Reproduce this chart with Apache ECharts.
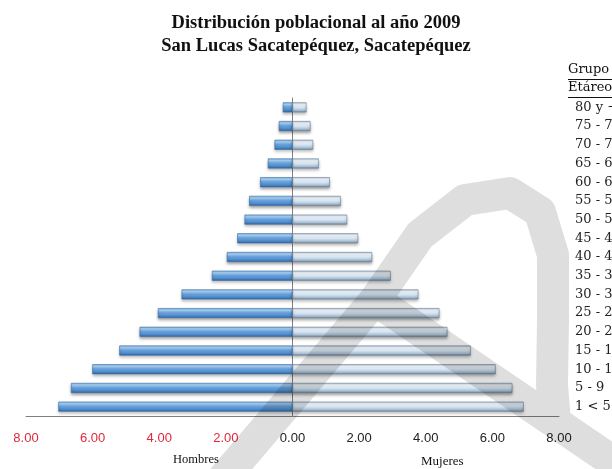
<!DOCTYPE html>
<html>
<head>
<meta charset="utf-8">
<script src="https://cdn.jsdelivr.net/npm/echarts@6/dist/echarts.min.js"></script>
<style>
  html, body { margin: 0; padding: 0; background: #fff; }
  #chart { width: 612px; height: 469px; }
</style>
</head>
<body>
<div id="chart"></div>
<script>
// Age groups, youngest at the bottom of the pyramid
const ageGroups = ['1 < 5', '5 - 9', '10 - 14', '15 - 19', '20 - 24', '25 - 29', '30 - 34',
  '35 - 39', '40 - 44', '45 - 49', '50 - 54', '55 - 59', '60 - 64', '65 - 69', '70 - 74',
  '75 - 79', '80 y +'];

// Percentage of population per group
const hombres = [7.03, 6.65, 6.01, 5.20, 4.59, 4.04, 3.33, 2.42, 1.97, 1.66, 1.44, 1.30, 0.97, 0.74, 0.54, 0.41, 0.29];
const mujeres = [6.94, 6.60, 6.10, 5.35, 4.65, 4.41, 3.78, 2.95, 2.39, 1.97, 1.64, 1.45, 1.12, 0.79, 0.62, 0.54, 0.42];

const axisMin = -8, axisMax = 8, axisStep = 2;

const chart = echarts.init(document.getElementById('chart'), null, { renderer: 'canvas' });

const grad = (stops) => new echarts.graphic.LinearGradient(0, 0, 0, 1,
  stops.map(([offset, color]) => ({ offset, color })));

const menFill = grad([[0, '#7fb3e6'], [0.22, '#aed4f6'], [0.45, '#6aa6e0'], [0.78, '#4c89ca'], [1, '#2f5f96']]);
const womenFill = grad([[0, '#aebfd0'], [0.22, '#f4f9fe'], [0.5, '#d9e8f5'], [0.8, '#aabfd3'], [1, '#6a8299']]);

const serif = '"Liberation Serif", "DejaVu Serif", serif';
const wideSerif = '"DejaVu Serif", "Liberation Serif", serif';
const sans = '"Liberation Sans", Arial, sans-serif';

chart.setOption({
  backgroundColor: '#ffffff',
  animation: false,
  title: {
    text: 'Distribución poblacional al año 2009\nSan Lucas Sacatepéquez, Sacatepéquez',
    left: 311, top: 7, textAlign: 'center',
    textStyle: { fontFamily: serif, fontSize: 18.5, fontWeight: 'bold', color: '#111', lineHeight: 23 }
  },
  grid: { left: 26, right: 53, top: 98, bottom: 53, containLabel: false, outerBoundsMode: 'none' },
  xAxis: {
    type: 'value', min: axisMin, max: axisMax, interval: axisStep,
    axisLine: { show: true, lineStyle: { color: '#7f7f7f', width: 1 } },
    axisTick: { show: false },
    splitLine: { show: false },
    axisLabel: {
      margin: 16,
      fontFamily: sans, fontSize: 13,
      formatter: (v) => Math.abs(v).toFixed(2),
      color: (v) => (Number(v) < 0 ? '#e0283c' : '#222')
    }
  },
  yAxis: [
    {
      type: 'category', data: ageGroups,
      axisLine: { show: true, onZero: true, lineStyle: { color: '#7f7f7f', width: 1 } },
      axisTick: { show: false },
      axisLabel: { show: false }
    },
    {
      type: 'category', data: ageGroups, position: 'right',
      axisLine: { show: false }, axisTick: { show: false },
      axisLabel: { interval: 0, hideOverlap: false, margin: 16, align: 'left', fontFamily: wideSerif, fontSize: 13, color: '#222' }
    }
  ],
  series: [
    {
      name: 'Hombres', type: 'bar', barWidth: 10, barGap: '-100%',
      data: hombres.map((v) => -v),
      itemStyle: {
        color: menFill, borderColor: '#3b6da6', borderWidth: 0.6,
        shadowColor: 'rgba(0,0,0,0.35)', shadowBlur: 3, shadowOffsetY: 2, shadowOffsetX: 0
      }
    },
    {
      name: 'Mujeres', type: 'bar', barWidth: 10,
      data: mujeres,
      itemStyle: {
        color: womenFill, borderColor: '#6f869e', borderWidth: 0.6,
        shadowColor: 'rgba(0,0,0,0.35)', shadowBlur: 3, shadowOffsetY: 2, shadowOffsetX: 0
      }
    }
  ],
  graphic: [
    { type: 'text', left: 173, top: 453, style: { text: 'Hombres', fontFamily: serif, fontSize: 12.5, fill: '#111' } },
    { type: 'text', left: 421, top: 455, style: { text: 'Mujeres', fontFamily: serif, fontSize: 13, fill: '#111' } },
    { type: 'text', left: 568, top: 63, style: { text: 'Grupo', fontFamily: wideSerif, fontSize: 13, fill: '#111' } },
    { type: 'line', shape: { x1: 568, y1: 79.5, x2: 612, y2: 79.5 }, style: { stroke: '#111', lineWidth: 1 } },
    { type: 'text', left: 568, top: 81, style: { text: 'Etáreo', fontFamily: wideSerif, fontSize: 13, fill: '#111' } },
    { type: 'line', shape: { x1: 568, y1: 97.5, x2: 612, y2: 97.5 }, style: { stroke: '#111', lineWidth: 1 } },
    // light logo mark laid over the plot
    {
      type: 'polyline', silent: true, z: 100,
      shape: {
        points: [[205, 500], [375, 300], [420, 235], [465, 200], [510, 193], [540, 212], [553, 255],
          [553, 320], [552, 385], [555, 422], [640, 480], [375, 300]]
      },
      style: { fill: null, stroke: 'rgba(0,0,0,0.13)', lineWidth: 32, lineJoin: 'round', lineCap: 'butt' }
    }
  ]
});
</script>
</body>
</html>
